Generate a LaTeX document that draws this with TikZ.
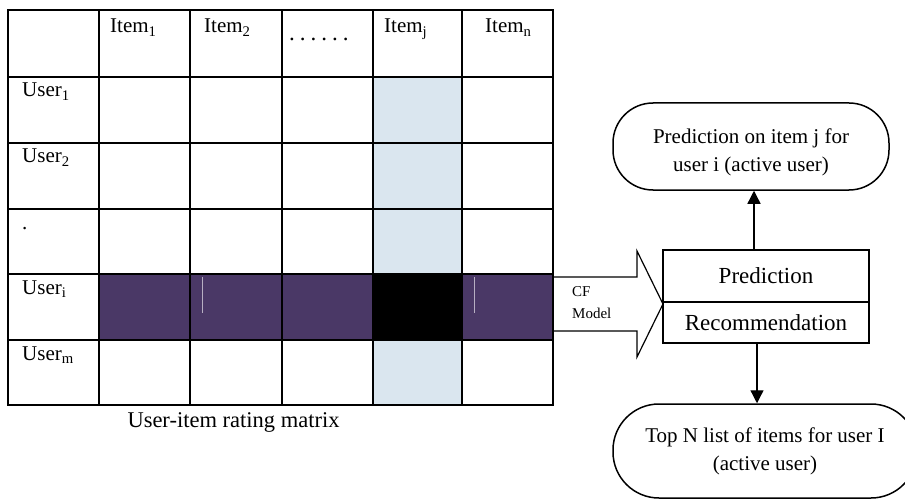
\documentclass[tikz,border=0pt]{standalone}
\usepackage{fontspec}
\setmainfont{Liberation Serif}
\usetikzlibrary{arrows.meta}
\definecolor{lblue}{HTML}{DAE6EF}
\definecolor{purp}{HTML}{4A3866}
\begin{document}
\begin{tikzpicture}[x=1pt,y=-1pt,
  lbl/.style={anchor=base west, inner sep=0pt, font=\fontsize{21}{25}\selectfont},
  gridline/.style={line width=2.4pt},
  oval/.style={draw, line width=1.5pt, rounded corners=#1, inner sep=0pt},
  ovtext/.style={align=center, inner sep=0pt, font=\fontsize{21}{28}\selectfont},
  boxpart/.style={draw, line width=1.3pt, minimum width=206pt, inner sep=0pt, font=\fontsize{23}{27}\selectfont},
  arr/.style={line width=1.3pt, -{Triangle[length=13pt,width=13pt]}},
  bigarrow/.style={draw, line width=1.2pt, fill=white},
  smalltext/.style={anchor=base west, inner sep=0pt, font=\fontsize{15}{18}\selectfont}]
\useasboundingbox (0,0) rectangle (905,500);
% cell fills
\fill[lblue] (373,77) rectangle (462,405);
\fill[purp] (99,274) rectangle (553,340);
\fill[black] (373,274) rectangle (462,340);
\draw[purp!40!white, line width=0.6pt] (202,277) -- (202,313);
\draw[purp!40!white, line width=0.6pt] (474,277) -- (474,313);
% CF model arrow
\draw[bigarrow] (553,277) -- (637,277) -- (637,251) -- (663,304) -- (637,357) -- (637,331) -- (553,331) -- cycle;
\node[smalltext] (cf) at (572,296) {CF};
\node[smalltext] (model) at (572,318) {Model};
% grid
\draw[gridline] (8,10) rectangle (553,405);
\foreach \x in {99,190,282,373,462} \draw[gridline] (\x,10) -- (\x,405);
\foreach \y in {77,143,209,274,340} \draw[gridline] (8,\y) -- (553,\y);
% header labels
\node[lbl] (i1) at (110,33) {Item\textsubscript{1}};
\node[lbl] (i2) at (204,33) {Item\textsubscript{2}};
\node[lbl, font=\fontsize{23}{27}\selectfont] (dots) at (289,41) {.\hspace{5pt}.\hspace{5pt}.\hspace{5pt}.\hspace{5pt}.\hspace{5pt}.};
\node[lbl] (ij) at (384,33) {Item\textsubscript{j}};
\node[lbl] (in) at (485,33) {Item\textsubscript{n}};
% row labels
\node[lbl] (u1) at (22,97) {User\textsubscript{1}};
\node[lbl] (u2) at (22,163) {User\textsubscript{2}};
\node[lbl] (udot) at (22,229) {.};
\node[lbl] (ui) at (22,294) {User\textsubscript{i}};
\node[lbl] (um) at (22,360) {User\textsubscript{m}};
\node[anchor=base, inner sep=0pt, font=\fontsize{22.5}{27}\selectfont] (cap) at (233.5,427) {User-item rating matrix};
% prediction / recommendation box
\node[boxpart, minimum height=52pt] (pred) at (766,276) {Prediction};
\node[boxpart, minimum height=41pt] (rec) at (766,322.5) {Recommendation};
% ovals
\node[oval=40pt, minimum width=276pt, minimum height=87pt,
  label={[ovtext, yshift=-6pt]center:Prediction on item j for\\user i (active user)}] (topov) at (751,146.5) {};
\node[oval=46pt, minimum width=304pt, minimum height=94pt,
  label={[ovtext]center:Top N list of items for user I\\(active user)}] (botov) at (765,451) {};
% connectors
\draw[arr] ([xshift=-12pt]pred.north) -- ([xshift=-12pt]pred.north |- topov.south);
\draw[arr] ([xshift=-9pt]rec.south) -- ([xshift=-9pt]rec.south |- botov.north);
\end{tikzpicture}
\end{document}
